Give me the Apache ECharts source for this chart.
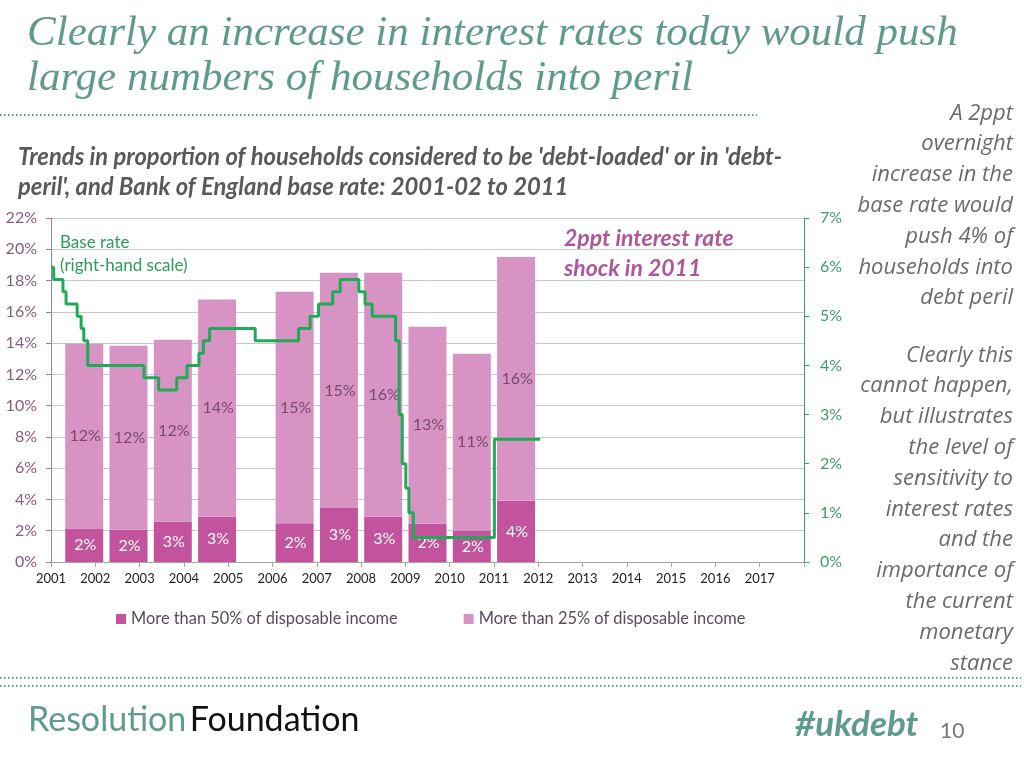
<!DOCTYPE html>
<html>
<head>
<meta charset="utf-8">
<script src="https://cdn.jsdelivr.net/npm/echarts@6/dist/echarts.min.js"></script>
<style>
html,body{margin:0;padding:0;background:#fff;}
#c{width:1024px;height:768px;}
</style>
</head>
<body>
<div id="c"></div>
<script>
// ---- data ----
var barYears = [2001.75, 2002.75, 2003.75, 2004.75, 2006.5, 2007.5, 2008.5, 2009.5, 2010.5, 2011.5];
var over50 = [2.15, 2.07, 2.58, 2.90, 2.48, 3.45, 2.90, 2.45, 2.00, 3.92];
var over25 = [11.8, 11.76, 11.64, 13.88, 14.81, 15.05, 15.6, 12.6, 11.32, 15.58];
var rateDates = [2001.0, 2001.06, 2001.27, 2001.34, 2001.59, 2001.68, 2001.74, 2001.83, 2003.10, 2003.43, 2003.84, 2004.07, 2004.34, 2004.44, 2004.58, 2005.61, 2006.59, 2006.85, 2007.04, 2007.36, 2007.53, 2007.95, 2008.09, 2008.25, 2008.78, 2008.86, 2008.93, 2009.01, 2009.08, 2009.18, 2011.01, 2012.04];
var baseRate = [6.0, 5.75, 5.5, 5.25, 5.0, 4.75, 4.5, 4.0, 3.75, 3.5, 3.75, 4.0, 4.25, 4.5, 4.75, 4.5, 4.75, 5.0, 5.25, 5.5, 5.75, 5.5, 5.25, 5.0, 4.5, 3.0, 2.0, 1.5, 1.0, 0.5, 2.5, 2.5];
var seriesNames = ['More than 50% of disposable income', 'More than 25% of disposable income'];
var leftTicks = {min: 0, max: 22, step: 2};
var rightTicks = {min: 0, max: 7, step: 1};
var yearTicks = {min: 2001, max: 2018, step: 1, lastLabel: 2017};

var titleLines = ['Clearly an increase in interest rates today would push', 'large numbers of households into peril'];
var subtitleLines = ["Trends in proportion of households considered to be 'debt-loaded' or in 'debt-", "peril', and Bank of England base rate: 2001-02 to 2011"];
var sideText1 = ['A 2ppt', 'overnight', 'increase in the', 'base rate would', 'push 4% of', 'households into', 'debt peril'];
var sideText2 = ['Clearly this', 'cannot happen,', 'but illustrates', 'the level of', 'sensitivity to', 'interest rates', 'and the', 'importance of', 'the current', 'monetary', 'stance'];

function pair(xs, ys){ return xs.map(function(x,i){ return [x, ys[i]]; }); }
// rows: [x, base, value]
var darkRows = barYears.map(function(x,i){ return [x, 0, over50[i]]; });
var lightRows = barYears.map(function(x,i){ return [x, over50[i], over25[i]]; });

var BAR_W = 38;
function makeRender(fill, textFill){
  return function(params, api){
    var x = api.value(0), b = api.value(1), v = api.value(2);
    var pb = api.coord([x, b]);
    var pt = api.coord([x, b + v]);
    return {
      type: 'group',
      children: [{
        type: 'rect',
        shape: {x: pb[0] - BAR_W/2, y: pt[1], width: BAR_W, height: pb[1] - pt[1]},
        style: {fill: fill}
      }, {
        type: 'text',
        x: pb[0] + 1, y: (pb[1] + pt[1]) / 2,
        style: {text: Math.round(v) + '%', fill: textFill, font: '16px Lato', textAlign: 'center', textVerticalAlign: 'middle'}
      }]
    };
  };
}

var chart = echarts.init(document.getElementById('c'), null, {renderer:'canvas'});
var teal = '#5f9a8e';
var option = {
  animation: false,
  backgroundColor: '#ffffff',
  grid: {left: 51, right: 220, top: 218, bottom: 206, containLabel: false},
  legend: {
    data: seriesNames,
    left: 111, top: 606,
    icon: 'rect', itemWidth: 10, itemHeight: 10, itemGap: 66,
    textStyle: {fontFamily: 'Lato', fontSize: 16.4, color: '#5a4a5a'}
  },
  xAxis: {
    type: 'value', min: yearTicks.min, max: yearTicks.max, interval: yearTicks.step,
    axisLine: {lineStyle: {color: '#a6a6a6', width: 1}},
    axisTick: {show: true, length: 5, lineStyle: {color: '#a6a6a6'}},
    splitLine: {show: false},
    axisLabel: {
      fontFamily: 'Lato', fontSize: 13, color: '#222', margin: 10,
      formatter: function(v){ return v <= yearTicks.lastLabel ? String(v) : ''; }
    }
  },
  yAxis: [{
    type: 'value', min: leftTicks.min, max: leftTicks.max, interval: leftTicks.step,
    axisLine: {show: true, lineStyle: {color: '#a07c96'}},
    axisTick: {show: true, length: 5, lineStyle: {color: '#a07c96'}},
    splitLine: {lineStyle: {color: '#c8c8c8', width: 1}},
    axisLabel: {fontFamily: 'Lato', fontSize: 16, color: '#8a5a7e', margin: 14, formatter: '{value}%'}
  }, {
    type: 'value', position: 'right', min: rightTicks.min, max: rightTicks.max, interval: rightTicks.step,
    axisLine: {show: true, lineStyle: {color: '#3f9a6e'}},
    axisTick: {show: true, length: 5, lineStyle: {color: '#3f9a6e'}},
    splitLine: {show: false},
    axisLabel: {fontFamily: 'Lato', fontSize: 16, color: '#3f9a6e', margin: 16, formatter: '{value}%'}
  }],
  series: [{
    name: seriesNames[0], type: 'custom', renderItem: makeRender('#c3539c', '#ffffff'),
    itemStyle: {color: '#c3539c'}, encode: {x: 0, y: [1, 2]},
    data: darkRows, z: 2
  }, {
    name: seriesNames[1], type: 'custom', renderItem: makeRender('#d693c3', '#7a4a6e'),
    itemStyle: {color: '#d693c3'}, encode: {x: 0, y: [1, 2]},
    data: lightRows, z: 2
  }, {
    name: 'Base rate', type: 'line', yAxisIndex: 1, step: 'end', showSymbol: false, symbol: 'none',
    lineStyle: {color: '#1faa56', width: 3}, itemStyle: {color: '#1faa56'},
    data: pair(rateDates, baseRate), z: 5
  }],
  graphic: [
    {type: 'text', left: 27, top: 12, style: {text: titleLines[0], font: 'italic 43px "Liberation Serif"', fill: teal}},
    {type: 'text', left: 27, top: 57, style: {text: titleLines[1], font: 'italic 43px "Liberation Serif"', fill: teal}},
    {type: 'line', shape: {x1: 0, y1: 115, x2: 757, y2: 115}, style: {stroke: teal, lineWidth: 2, lineDash: [1.5, 2.5]}},
    {type: 'line', shape: {x1: 0, y1: 678, x2: 1021, y2: 678}, style: {stroke: teal, lineWidth: 2, lineDash: [1.5, 2.5]}},
    {type: 'line', shape: {x1: 0, y1: 686, x2: 1021, y2: 686}, style: {stroke: teal, lineWidth: 2, lineDash: [1.5, 2.5]}},
    {type: 'text', left: 18, top: 142, style: {text: subtitleLines.join('\n'), font: 'italic bold 23.8px Lato', fill: '#595959', lineHeight: 30}},
    {type: 'text', right: 11, top: 98, style: {text: sideText1.join('\n'), font: 'italic 22px "Open Sans"', fill: '#6b6b6b', lineHeight: 30.8, textAlign: 'right'}},
    {type: 'text', right: 11, top: 340, style: {text: sideText2.join('\n'), font: 'italic 22px "Open Sans"', fill: '#6b6b6b', lineHeight: 30.8, textAlign: 'right'}},
    {type: 'text', left: 60, top: 231, style: {text: 'Base rate\n(right-hand scale)', font: '17px Lato', fill: '#2f9a5e', lineHeight: 23}},
    {type: 'text', left: 564, top: 224, style: {text: '2ppt interest rate\nshock in 2011', font: 'italic bold 23px Lato', fill: '#b0569a', lineHeight: 30}},
    {type: 'text', left: 28, top: 703, style: {rich: {a: {fill: teal, font: '34px Lato'}, b: {fill: '#111', font: '34px Lato'}}, text: '{a|Resolution} {b|Foundation}'}},
    {type: 'text', left: 795, top: 707, style: {text: '#ukdebt', font: 'italic bold 35px Lato', fill: teal}},
    {type: 'text', left: 940, top: 721, style: {text: '10', font: '21px Lato', fill: '#777'}}
  ]
};
chart.setOption(option);
</script>
</body>
</html>
